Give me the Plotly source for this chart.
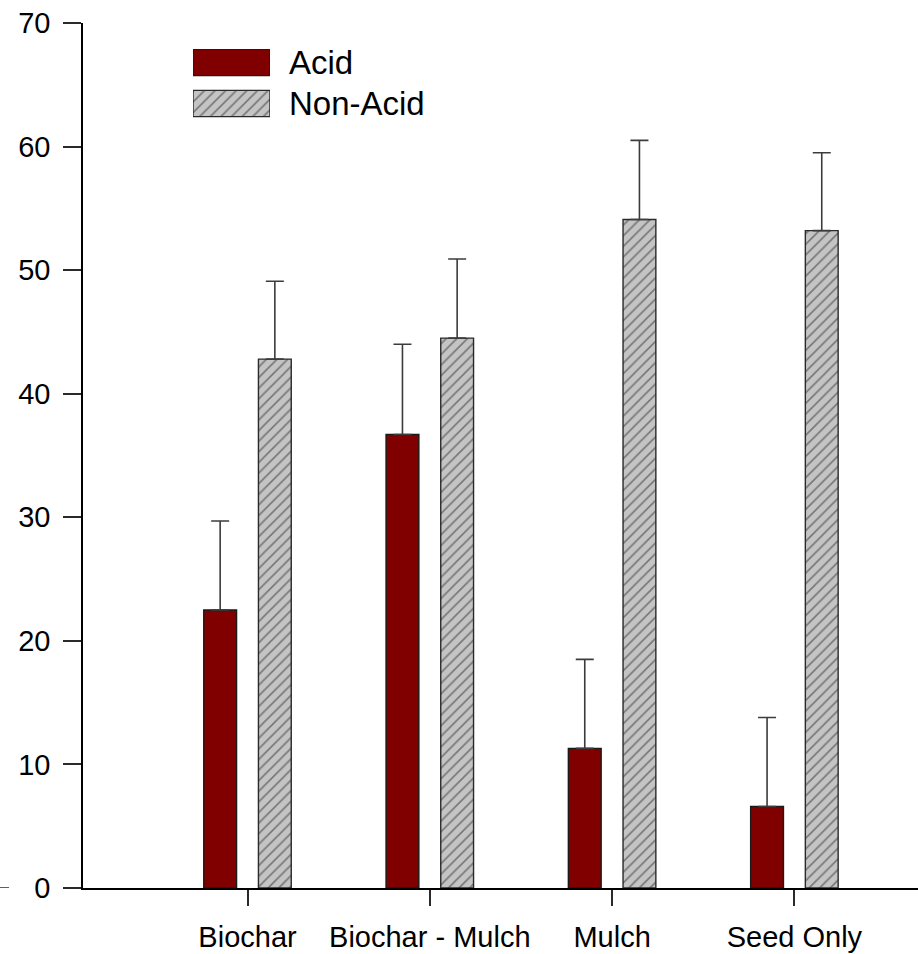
import plotly.graph_objects as go

# Treatment groups along the x axis
categories = ["Biochar", "Biochar - Mulch", "Mulch", "Seed Only"]

# Mean values and upper error for each soil type
acid_values = [22.5, 36.7, 11.3, 6.6]
acid_errors = [7.2, 7.3, 7.2, 7.2]
nonacid_values = [42.8, 44.5, 54.1, 53.2]
nonacid_errors = [6.3, 6.4, 6.4, 6.3]

series_names = ["Acid", "Non-Acid"]

y_ticks = [0, 10, 20, 30, 40, 50, 60, 70]

FONT = "Liberation Sans, Arial, sans-serif"
ACID_COLOR = "#800000"
HATCH_BG = "#c4c4c4"
HATCH_FG = "#2a2a2a"
AXIS_COLOR = "#2a2a2a"

W, H = 918, 954
ML, MR, MT, MB = 83, 0, 23, 66
plot_w = W - ML - MR
plot_h = H - MT - MB

x_pos = list(range(len(categories)))

acid_marker = dict(color=ACID_COLOR, line=dict(color="#1a1a1a", width=1.4))
hatch_marker = dict(
    color=HATCH_BG,
    line=dict(color="#2a2a2a", width=1.4),
    pattern=dict(shape="/", fgcolor=HATCH_FG, bgcolor=HATCH_BG, size=7.5, solidity=0.22),
)

fig = go.Figure()

fig.add_trace(go.Bar(
    x=x_pos, y=acid_values, name=series_names[0], marker=acid_marker,
    error_y=dict(type="data", symmetric=False, array=acid_errors,
                 arrayminus=[0] * len(acid_errors),
                 color="#3c3c3c", thickness=1.6, width=9),
    showlegend=False,
))
fig.add_trace(go.Bar(
    x=x_pos, y=nonacid_values, name=series_names[1], marker=hatch_marker,
    error_y=dict(type="data", symmetric=False, array=nonacid_errors,
                 arrayminus=[0] * len(nonacid_errors),
                 color="#3c3c3c", thickness=1.6, width=9),
    showlegend=False,
))

# Legend swatches drawn as horizontal bars on a small inset axis
fig.add_trace(go.Bar(
    x=[1], y=[1], orientation="h", width=0.64, marker=acid_marker,
    xaxis="x2", yaxis="y2", showlegend=False, hoverinfo="skip",
))
fig.add_trace(go.Bar(
    x=[1], y=[0], orientation="h", width=0.64, marker=hatch_marker,
    xaxis="x2", yaxis="y2", showlegend=False, hoverinfo="skip",
))


def px_to_paper_x(px):
    return (px - ML) / plot_w


def px_to_paper_y(py):
    return (H - MB - py) / plot_h


unit = 182.3  # pixels between category centres
first_center = 247.5
x0 = -(first_center - ML) / unit
x1 = x0 + plot_w / unit

fig.update_layout(
    width=W, height=H,
    margin=dict(l=ML, r=MR, t=MT, b=MB, pad=0),
    paper_bgcolor="white", plot_bgcolor="white",
    barmode="group", bargap=0.4, bargroupgap=0.4,
    font=dict(family=FONT, size=29, color="black"),
    xaxis=dict(
        range=[x0, x1], tickmode="array", tickvals=x_pos, ticktext=categories,
        showgrid=False, zeroline=False,
        showline=True, linecolor="black", linewidth=1.5,
        ticks="outside", ticklen=16, tickwidth=1.5, tickcolor=AXIS_COLOR,
        ticklabelstandoff=6,
        tickfont=dict(family=FONT, size=29, color="black"),
    ),
    yaxis=dict(
        range=[0, 70], tickmode="array", tickvals=y_ticks,
        showgrid=False, zeroline=False,
        showline=True, linecolor="black", linewidth=1.5,
        ticks="outside", ticklen=18, tickwidth=1.5, tickcolor=AXIS_COLOR,
        ticklabelstandoff=7,
        tickfont=dict(family=FONT, size=29, color="black"),
    ),
    xaxis2=dict(
        domain=[px_to_paper_x(193), px_to_paper_x(270)], range=[0, 1],
        anchor="y2", visible=False, fixedrange=True,
    ),
    yaxis2=dict(
        domain=[px_to_paper_y(118), px_to_paper_y(49)], range=[-0.354, 1.329],
        anchor="x2", visible=False, fixedrange=True,
    ),
    annotations=[
        dict(text=series_names[0], xref="paper", yref="paper",
             x=px_to_paper_x(287), y=px_to_paper_y(62.5),
             xanchor="left", yanchor="middle", showarrow=False,
             font=dict(family=FONT, size=33, color="black")),
        dict(text=series_names[1], xref="paper", yref="paper",
             x=px_to_paper_x(287), y=px_to_paper_y(103.5),
             xanchor="left", yanchor="middle", showarrow=False,
             font=dict(family=FONT, size=33, color="black")),
    ],
    shapes=[
        dict(type="line", xref="paper", yref="y",
             x0=px_to_paper_x(0), x1=px_to_paper_x(9), y0=0, y1=0,
             line=dict(color=AXIS_COLOR, width=1.5)),
    ],
)

fig.write_html("out.html")
